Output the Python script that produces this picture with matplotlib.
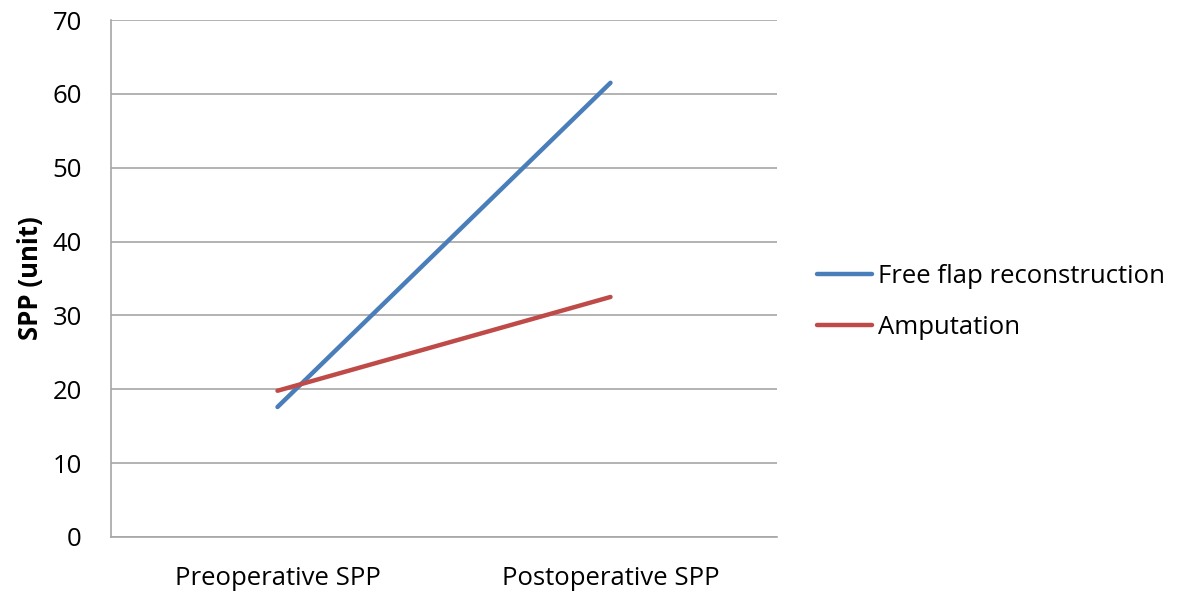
import matplotlib
matplotlib.use("Agg")
import matplotlib.pyplot as plt

categories = ["Preoperative SPP", "Postoperative SPP"]
free_flap = [17.6, 61.5]
amputation = [19.8, 32.5]
series_names = ["Free flap reconstruction", "Amputation"]
y_ticks = [0, 10, 20, 30, 40, 50, 60, 70]

BLUE = "#4A7EBB"
RED = "#BE4B48"
GRID = "#a6a6a6"

plt.rcParams["font.family"] = ["Open Sans", "DejaVu Sans"]
FS = 18.5

fig = plt.figure(figsize=(11.79, 6), dpi=100)
ax = fig.add_axes([111 / 1179, 63 / 600, 666 / 1179, 517 / 600])

x = [0, 1]
ax.plot(x, free_flap, color=BLUE, lw=3.2, solid_capstyle="round", label=series_names[0])
ax.plot(x, amputation, color=RED, lw=3.2, solid_capstyle="round", label=series_names[1])

ax.set_xlim(-0.5, 1.5)
ax.set_ylim(0, 70)
ax.set_yticks(y_ticks)
ax.set_xticks(x)
ax.set_xticklabels(categories, fontsize=FS)
ax.tick_params(axis="y", labelsize=FS, length=0, pad=21)
ax.tick_params(axis="x", length=0, pad=21)
ax.yaxis.grid(True, color=GRID, lw=1.2)
ax.set_axisbelow(True)

for side in ["top", "right"]:
    ax.spines[side].set_visible(False)
for side in ["left", "bottom"]:
    ax.spines[side].set_color(GRID)
    ax.spines[side].set_linewidth(1.2)

ax.set_ylabel("SPP (unit)", fontsize=FS, fontweight="bold", labelpad=6)

fig.legend(loc="center left", bbox_to_anchor=(794 / 1179, 1 - 302 / 600),
           frameon=False, fontsize=FS, handlelength=2.14, handletextpad=0.23,
           labelspacing=1.0)

fig.savefig("out.png", dpi=100, facecolor="white")
